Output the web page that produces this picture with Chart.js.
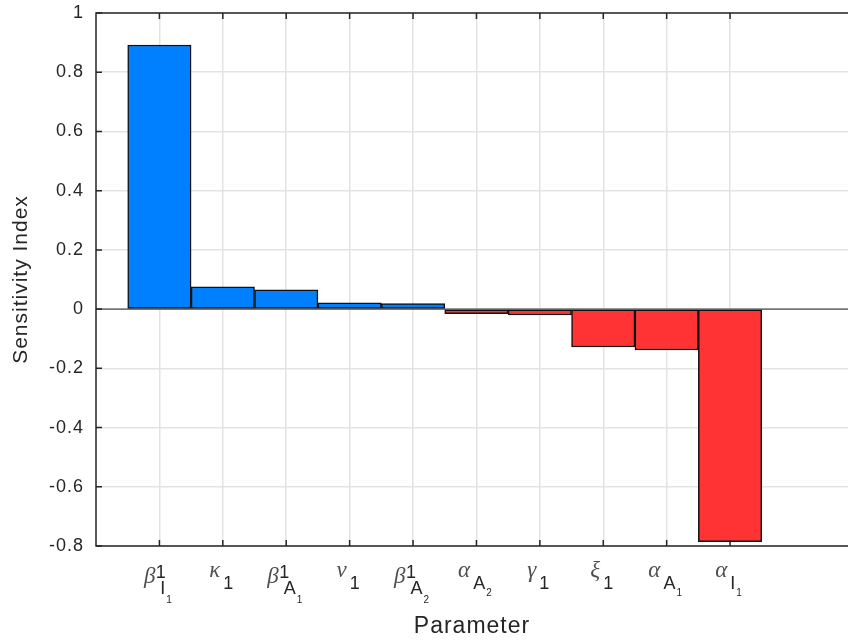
<!DOCTYPE html>
<html>
<head>
<meta charset="utf-8">
<script src="https://cdn.jsdelivr.net/npm/chart.js@4.4.1/dist/chart.umd.min.js"></script>
<style>
  html, body { margin: 0; padding: 0; background: #fff; }
</style>
</head>
<body>
<canvas id="sensitivityChart" width="848" height="640"></canvas>
<script>
// tick labels along the x axis: greek letter, superscript, subscript, sub-subscript
const greek = ["β", "κ", "β", "ν", "β", "α", "γ", "ξ", "α", "α"];
const supers = ["1", "", "1", "", "1", "", "", "", "", ""];
const subs = ["I", "1", "A", "1", "A", "A", "1", "1", "A", "I"];
const subsubs = ["1", "", "1", "", "2", "2", "", "", "1", "1"];

const sensitivity = [0.892, 0.075, 0.065, 0.021, 0.019, -0.015, -0.020, -0.128, -0.138, -0.785];
const yTicks = [-0.8, -0.6, -0.4, -0.2, 0, 0.2, 0.4, 0.6, 0.8, 1];

const positions = greek.map((_, i) => i + 1);

const AXIS = "#262626";
const GRID = "#e3e3e3";
const BLUE = "#0080ff";
const RED = "#ff3333";
const SANS = "'Liberation Sans', Arial, sans-serif";
const SERIF = "'Liberation Serif', 'Times New Roman', serif";

const matlabAxes = {
  id: "matlabAxes",
  beforeDraw(chart) {
    chart.ctx.letterSpacing = "1px";
  },
  afterDatasetsDraw(chart) {
    const { ctx, chartArea: a, scales: { y } } = chart;
    const y0 = y.getPixelForValue(0);
    ctx.save();
    ctx.strokeStyle = AXIS;
    ctx.lineWidth = 1;
    ctx.beginPath();
    ctx.moveTo(a.left, y0);
    ctx.lineTo(a.right, y0);
    ctx.stroke();
    ctx.restore();
  },
  afterDraw(chart) {
    const { ctx, chartArea: a, scales: { x, y } } = chart;
    const tl = 6;
    ctx.save();
    ctx.strokeStyle = AXIS;
    ctx.lineWidth = 1.5;

    // box (right side falls outside the canvas)
    ctx.beginPath();
    ctx.moveTo(a.right, a.top);
    ctx.lineTo(a.left, a.top);
    ctx.lineTo(a.left, a.bottom);
    ctx.lineTo(a.right, a.bottom);
    ctx.stroke();

    // inward ticks
    ctx.beginPath();
    positions.forEach(v => {
      const px = x.getPixelForValue(v);
      ctx.moveTo(px, a.bottom);
      ctx.lineTo(px, a.bottom - tl);
      ctx.moveTo(px, a.top);
      ctx.lineTo(px, a.top + tl);
    });
    yTicks.forEach(v => {
      const py = y.getPixelForValue(v);
      ctx.moveTo(a.left, py);
      ctx.lineTo(a.left + tl, py);
    });
    ctx.stroke();

    // tex-like category labels
    ctx.letterSpacing = "0px";
    ctx.textBaseline = "alphabetic";
    ctx.textAlign = "left";
    const gFont = "italic 23px " + SERIF;
    const sFont = "18px " + SANS;
    const ssFont = "10px " + SANS;
    positions.forEach((v, i) => {
      const px = x.getPixelForValue(v);
      const hasSup = supers[i] !== "";
      ctx.font = gFont;
      const wg = ctx.measureText(greek[i]).width;
      ctx.font = sFont;
      const wsup = hasSup ? ctx.measureText(supers[i]).width : 0;
      const wsub = ctx.measureText(subs[i]).width;
      ctx.font = ssFont;
      const wss = subsubs[i] ? ctx.measureText(subsubs[i]).width + 1 : 0;
      const supGap = 0.5;
      const subGap = hasSup ? 5 : 3;
      const scriptW = Math.max(supGap + wsup, subGap + wsub + wss);
      const gx = px - 1.5 - (wg + scriptW) / 2;
      const gBase = hasSup ? 583 : 577;
      const subBase = hasSup ? 594 : 589;

      ctx.fillStyle = "#505050";
      ctx.font = gFont;
      ctx.fillText(greek[i], gx, gBase);

      ctx.fillStyle = AXIS;
      ctx.font = sFont;
      if (hasSup) ctx.fillText(supers[i], gx + wg + supGap, 578);
      const sx = gx + wg + subGap;
      ctx.fillText(subs[i], sx, subBase);
      if (subsubs[i]) {
        ctx.font = ssFont;
        ctx.fillText(subsubs[i], sx + wsub + 1, subBase + (hasSup ? 9 : 7));
      }
    });
    ctx.restore();
  }
};

const ctx = document.getElementById("sensitivityChart");

new Chart(ctx, {
  type: "bar",
  data: {
    datasets: [
      {
        label: "Sensitivity Index",
        data: positions.map((p, i) => ({ x: p, y: sensitivity[i] })),
        backgroundColor: sensitivity.map(v => (v >= 0 ? BLUE : RED)),
        borderColor: "#111",
        borderWidth: 1.5,
        borderSkipped: false,
        barPercentage: 1,
        categoryPercentage: 1,
      },
    ],
  },
  options: {
    responsive: false,
    animation: false,
    devicePixelRatio: 1,
    layout: { padding: { top: 13, right: 0, left: 0, bottom: 0 } },
    plugins: {
      legend: { display: false },
      tooltip: { enabled: false },
    },
    scales: {
      x: {
        type: "linear",
        min: 0,
        max: 11.86,
        offset: false,
        afterBuildTicks: s => { s.ticks = positions.map(v => ({ value: v })); },
        ticks: { display: false },
        grid: { color: GRID, lineWidth: 1.5, drawTicks: false, offset: false },
        border: { display: false },
        title: {
          display: true,
          text: "Parameter",
          color: AXIS,
          font: { family: SANS, size: 23 },
          padding: { top: 0, bottom: 0 },
        },
        afterFit: s => {
          s.height = 94;
          s.paddingLeft = 0;
          s.paddingRight = 0;
        },
      },
      y: {
        min: -0.8,
        max: 1,
        afterBuildTicks: s => { s.ticks = yTicks.map(v => ({ value: v })); },
        ticks: {
          color: AXIS,
          font: { family: SANS, size: 18 },
          padding: 12,
          callback: v => String(Number(v.toFixed(1))),
        },
        grid: { color: GRID, lineWidth: 1.5, drawTicks: false },
        border: { display: false },
        title: {
          display: true,
          text: "Sensitivity Index",
          color: AXIS,
          font: { family: SANS, size: 21 },
          padding: { top: 9, bottom: 0 },
        },
        afterFit: s => {
          s.width = 96;
          s.paddingTop = 0;
          s.paddingBottom = 0;
        },
      },
    },
  },
  plugins: [matlabAxes],
});
</script>
</body>
</html>
